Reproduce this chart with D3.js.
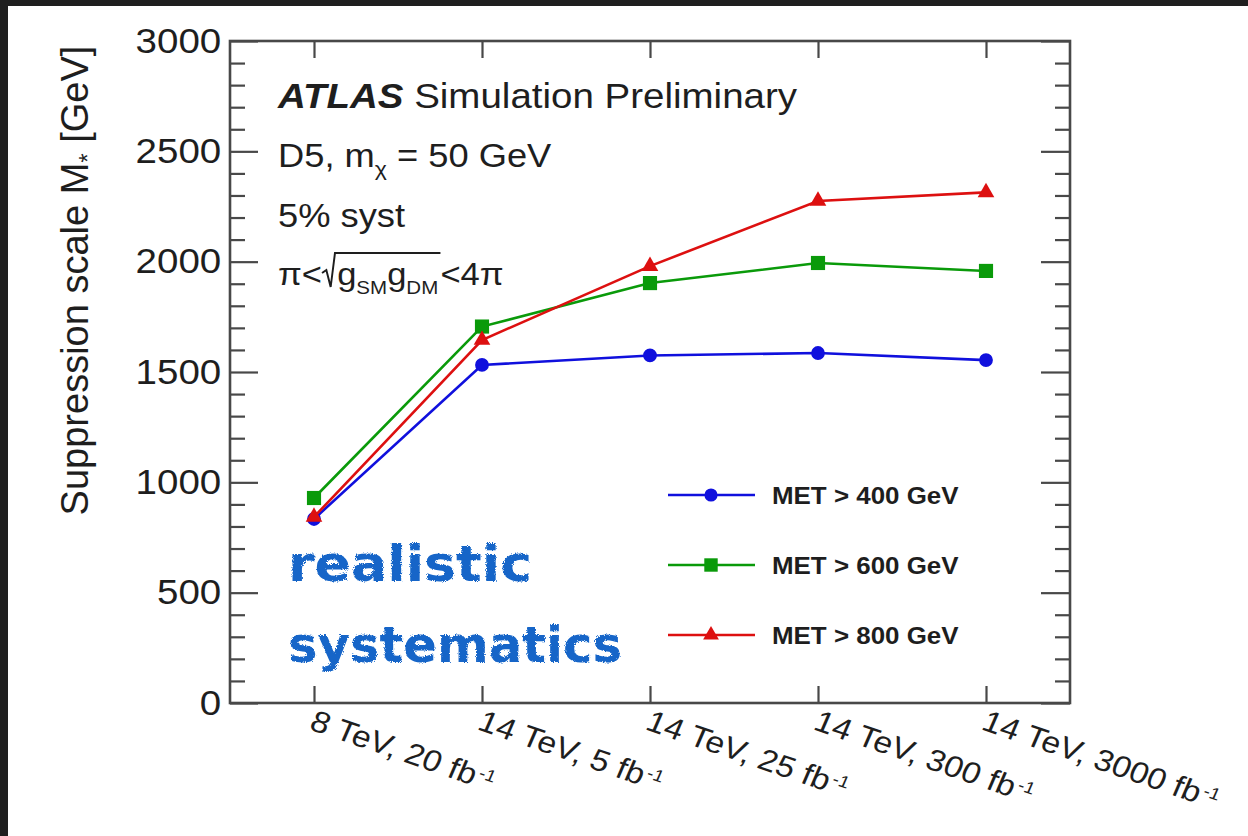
<!DOCTYPE html>
<html><head><meta charset="utf-8">
<script src="https://cdn.jsdelivr.net/npm/d3@7"></script>
<style>body{margin:0;background:#fff;overflow:hidden}svg{display:block}</style>
</head><body><svg id="c" width="1248" height="836"></svg>
<script>
// ---- data ----
const categories = ["8 TeV, 20 fb", "14 TeV, 5 fb", "14 TeV, 25 fb", "14 TeV, 300 fb", "14 TeV, 3000 fb"];
const categorySup = "-1";
const met400 = [834, 1532, 1575, 1586, 1554];
const met600 = [929, 1706, 1903, 1994, 1958];
const met800 = [843, 1645, 1980, 2275, 2314];
const seriesNames = ["MET > 400 GeV", "MET > 600 GeV", "MET > 800 GeV"];
const yMajorTicks = [0, 500, 1000, 1500, 2000, 2500, 3000];
const yMinorTicks = d3.range(0, 3001, 100).filter(v => v % 500 !== 0);

const svg = d3.select("#c");
const W = 1248, H = 836;
const L = 230, R = 1070, T = 41, B = 703;
const x = d3.scalePoint().domain(categories).range([L, R]).padding(0.5);
const y = d3.scaleLinear().domain([0, 3000]).range([B, T]);
const axisColor = "#484848";
const textColor = "#1e1e1e";
const font = "Liberation Sans, Arial, sans-serif";

svg.append("rect").attr("width", W).attr("height", H).attr("fill", "#fff");

const defs = svg.append("defs");
const f = defs.append("filter").attr("id", "rough").attr("x", "-5%").attr("y", "-20%").attr("width", "110%").attr("height", "140%");
f.append("feTurbulence").attr("type", "fractalNoise").attr("baseFrequency", 0.9).attr("numOctaves", 2).attr("seed", 3).attr("result", "n");
f.append("feDisplacementMap").attr("in", "SourceGraphic").attr("in2", "n").attr("scale", 3.5);

// ---- axes ----
function styleAxis(g) {
  g.select(".domain").remove();
  g.selectAll(".tick line").attr("stroke", axisColor).attr("stroke-width", 2.2);
}
const yl = svg.append("g").attr("transform", `translate(${L},0)`)
  .call(d3.axisLeft(y).tickValues(yMajorTicks).tickSize(-28).tickPadding(8).tickFormat(d3.format("d")));
styleAxis(yl);
yl.selectAll(".tick text").attr("font-family", font).attr("font-size", 35)
  .attr("fill", textColor).attr("transform", "scale(1.1,1)");
const ylm = svg.append("g").attr("transform", `translate(${L},0)`)
  .call(d3.axisLeft(y).tickValues(yMinorTicks).tickSize(-15).tickFormat(""));
styleAxis(ylm);
const yr = svg.append("g").attr("transform", `translate(${R},0)`)
  .call(d3.axisRight(y).tickValues(yMajorTicks).tickSize(-29).tickFormat(""));
styleAxis(yr);
const yrm = svg.append("g").attr("transform", `translate(${R},0)`)
  .call(d3.axisRight(y).tickValues(yMinorTicks).tickSize(-15).tickFormat(""));
styleAxis(yrm);
const xt = svg.append("g").attr("transform", `translate(0,${T})`)
  .call(d3.axisTop(x).tickSize(-17).tickFormat(""));
styleAxis(xt);
const xb = svg.append("g").attr("transform", `translate(0,${B})`)
  .call(d3.axisBottom(x).tickSize(-17).tickFormat(""));
styleAxis(xb);

svg.append("rect").attr("x", L).attr("y", T).attr("width", R - L).attr("height", B - T)
  .attr("fill", "none").attr("stroke", axisColor).attr("stroke-width", 2.6);

// x labels
const xl = svg.append("g");
categories.forEach(c => {
  const t = xl.append("text")
    .attr("transform", `translate(${x(c) - 6},${B + 26}) scale(1.12,1) rotate(21)`)
    .attr("font-family", font).attr("font-size", 30)
    .attr("fill", textColor);
  t.append("tspan").text(c);
  t.append("tspan").attr("font-size", 17).attr("dy", -9).attr("dx", 2).text(categorySup);
});

// y label
const ylab = svg.append("text")
  .attr("transform", `translate(88,${(T + 520) / 2}) rotate(-90)`)
  .attr("text-anchor", "middle")
  .attr("font-family", font).attr("font-size", 38)
  .attr("fill", textColor);
ylab.append("tspan").text("Suppression scale M");
ylab.append("tspan").attr("font-size", 24).attr("dy", 8).text("*");
ylab.append("tspan").attr("dy", -8).text(" [GeV]");

// ---- series ----
const series = [
  {name: seriesNames[0], values: met400, color: "#1010dd", sym: d3.symbolCircle, size: 150},
  {name: seriesNames[1], values: met600, color: "#0a9a0a", sym: d3.symbolSquare, size: 200},
  {name: seriesNames[2], values: met800, color: "#dd1010", sym: d3.symbolTriangle, size: 120}
];
const line = d3.line().x((d, i) => x(categories[i])).y(d => y(d));
series.forEach(s => {
  svg.append("path").datum(s.values).attr("d", line).attr("fill", "none")
    .attr("stroke", s.color).attr("stroke-width", 2.6);
  svg.append("g").selectAll("path").data(s.values).join("path")
    .attr("transform", (d, i) => `translate(${x(categories[i])},${y(d)})`)
    .attr("d", d3.symbol().type(s.sym).size(s.size)).attr("fill", s.color);
});

// ---- legend ----
const lg = svg.append("g");
series.forEach((s, i) => {
  const ly = 495 + i * 70;
  lg.append("line").attr("x1", 668).attr("x2", 755).attr("y1", ly).attr("y2", ly)
    .attr("stroke", s.color).attr("stroke-width", 2.6);
  lg.append("path").attr("transform", `translate(711,${ly})`)
    .attr("d", d3.symbol().type(s.sym).size(s.size * 0.9)).attr("fill", s.color);
  lg.append("text").attr("transform", `translate(772,${ly + 8.5}) scale(1.08,1)`)
    .attr("font-family", font).attr("font-weight", "bold")
    .attr("font-size", 24).attr("fill", textColor).text(s.name);
});

// ---- annotations ----
function txt(xx, yy, size) {
  return svg.append("text").attr("transform", `translate(${xx},${yy}) scale(1.1,1)`)
    .attr("font-family", font).attr("font-size", size).attr("fill", textColor);
}
const t1 = txt(278, 108, 35);
t1.append("tspan").attr("font-weight", "bold").attr("font-style", "italic").text("ATLAS");
t1.append("tspan").text(" Simulation Preliminary");

const t2 = txt(278, 167, 33);
t2.append("tspan").text("D5, m");
t2.append("tspan").attr("font-size", 21).attr("dy", 9).text("χ");
t2.append("tspan").attr("dy", -9).text(" = 50 GeV");

txt(278, 227, 33).text("5% syst");

const fg = svg.append("g").attr("transform", "translate(278,285) scale(1.08,1)");
const a1 = fg.append("text").attr("font-family", font).attr("font-size", 32).attr("fill", textColor).text("π<");
const w1 = a1.node().getComputedTextLength();
const a2 = fg.append("text").attr("x", w1 + 14).attr("font-family", font).attr("font-size", 32).attr("fill", textColor);
a2.append("tspan").text("g");
a2.append("tspan").attr("font-size", 19).attr("dy", 9).text("SM");
a2.append("tspan").attr("dy", -9).text("g");
a2.append("tspan").attr("font-size", 19).attr("dy", 9).text("DM");
const w2 = a2.node().getComputedTextLength();
fg.append("path").attr("d", `M${w1},-12 L${w1 + 4},-15 L${w1 + 8},2 L${w1 + 12},-32 L${w1 + 16 + w2},-32`)
  .attr("fill", "none").attr("stroke", textColor).attr("stroke-width", 1.8);
fg.append("text").attr("x", w1 + 16 + w2).attr("font-family", font).attr("font-size", 32)
  .attr("fill", textColor).text("<4π");

// handwritten note
const hw = svg.append("g").attr("filter", "url(#rough)");
hw.append("text").attr("x", 288).attr("y", 581).attr("font-family", "DejaVu Sans, sans-serif")
  .attr("font-weight", "bold").attr("font-size", 50).attr("fill", "#1565c8")
  .attr("textLength", 244).attr("lengthAdjust", "spacingAndGlyphs").text("realistic");
hw.append("text").attr("x", 288).attr("y", 662).attr("font-family", "DejaVu Sans, sans-serif")
  .attr("font-weight", "bold").attr("font-size", 50).attr("fill", "#1565c8")
  .attr("textLength", 334).attr("lengthAdjust", "spacingAndGlyphs").text("systematics");

// dark screenshot frame
svg.append("rect").attr("x", 0).attr("y", 0).attr("width", W).attr("height", 6).attr("fill", "#1f1f1f");
svg.append("rect").attr("x", 0).attr("y", 0).attr("width", 8).attr("height", H).attr("fill", "#1f1f1f");
</script></body></html>
